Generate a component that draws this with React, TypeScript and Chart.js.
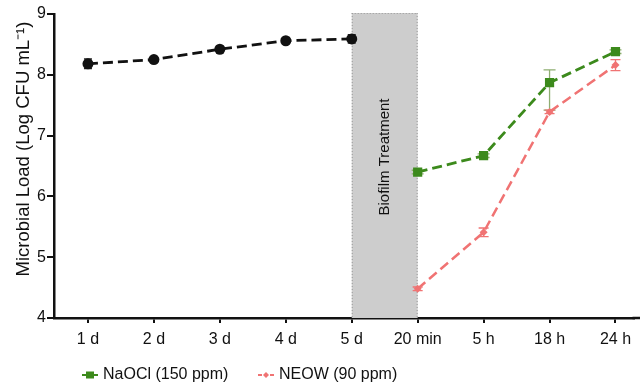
import React, { useEffect, useRef } from "react";
import { Chart, registerables } from "chart.js";

Chart.register(...registerables);

const categories = ["1 d", "2 d", "3 d", "4 d", "5 d", "20 min", "5 h", "18 h", "24 h"];
const yTicks = [4, 5, 6, 7, 8, 9];

const growthValues = [8.18, 8.25, 8.42, 8.56, 8.59, null, null, null, null];
const growthErr = [0.08, 0.04, 0.03, 0.03, 0.07, 0, 0, 0, 0];

const naoclValues = [null, null, null, null, null, 6.4, 6.67, 7.87, 8.38];
const naoclErrUp = [0, 0, 0, 0, 0, 0.03, 0.03, 0.21, 0.03];
const naoclErrDown = [0, 0, 0, 0, 0, 0.03, 0.03, 0.45, 0.03];

const neowValues = [null, null, null, null, null, 4.48, 5.41, 7.39, 8.16];
const neowErr = [0, 0, 0, 0, 0, 0.03, 0.07, 0.03, 0.09];

const legendNames = ["NaOCl (150 ppm)", "NEOW (90 ppm)"];
const bandLabel = "Biofilm Treatment";
const yTitle = "Microbial Load (Log CFU mL\u207B\u00B9)";

const GREEN = "#3c8a1c";
const RED = "#f07373";
const FONT = "Arial, 'Liberation Sans', sans-serif";

export default function App() {
  const ref = useRef<HTMLCanvasElement | null>(null);

  useEffect(() => {
    if (!ref.current) return;

    const band = {
      id: "band",
      beforeDatasetsDraw(chart: any) {
        const ctx = chart.ctx;
        const x = chart.scales.x;
        const y = chart.scales.y;
        const area = chart.chartArea;
        const x0 = x.getPixelForValue(4);
        const x1 = x.getPixelForValue(5);
        ctx.save();
        ctx.fillStyle = "#cdcdcd";
        ctx.fillRect(x0, area.top - 1, x1 - x0, area.bottom - area.top + 1);
        ctx.strokeStyle = "#9a9a9a";
        ctx.lineWidth = 1;
        ctx.setLineDash([1, 2]);
        ctx.beginPath();
        ctx.moveTo(x0 + 0.5, area.top - 1);
        ctx.lineTo(x0 + 0.5, area.bottom);
        ctx.moveTo(x1 - 0.5, area.top - 1);
        ctx.lineTo(x1 - 0.5, area.bottom);
        ctx.moveTo(x0, area.top - 0.5);
        ctx.lineTo(x1, area.top - 0.5);
        ctx.stroke();
        ctx.setLineDash([]);
        ctx.save();
        ctx.translate((x0 + x1) / 2, 157);
        ctx.rotate(-Math.PI / 2);
        ctx.fillStyle = "#111";
        ctx.font = `15px ${FONT}`;
        ctx.textAlign = "center";
        ctx.textBaseline = "middle";
        ctx.fillText(bandLabel, 0, 0);
        ctx.restore();

        const sets = [
          { v: growthValues, up: growthErr, dn: growthErr, c: "#222", cap: 4 },
          { v: naoclValues, up: naoclErrUp, dn: naoclErrDown, c: "#8fae72", cap: 6 },
          { v: neowValues, up: neowErr, dn: neowErr, c: RED, cap: 5 },
        ];
        sets.forEach((s) => {
          ctx.strokeStyle = s.c;
          ctx.lineWidth = 1.3;
          s.v.forEach((val, i) => {
            if (val === null) return;
            const u = s.up[i];
            const d = s.dn[i];
            if (!u && !d) return;
            const px = x.getPixelForValue(i);
            const top = y.getPixelForValue((val as number) + u);
            const bot = y.getPixelForValue((val as number) - d);
            ctx.beginPath();
            ctx.moveTo(px, top);
            ctx.lineTo(px, bot);
            ctx.moveTo(px - s.cap, top);
            ctx.lineTo(px + s.cap, top);
            ctx.moveTo(px - s.cap, bot);
            ctx.lineTo(px + s.cap, bot);
            ctx.stroke();
          });
        });
        ctx.restore();
      },
    };

    const extras = {
      id: "extras",
      afterDraw(chart: any) {
        const ctx = chart.ctx;
        const area = chart.chartArea;
        ctx.save();
        // extend x axis line to the right edge
        ctx.strokeStyle = "#111";
        ctx.lineWidth = 2.5;
        ctx.beginPath();
        ctx.moveTo(area.right - 1, area.bottom);
        ctx.lineTo(640, area.bottom);
        ctx.stroke();
        ctx.restore();

        ctx.save();
        ctx.translate(24, 149);
        ctx.rotate(-Math.PI / 2);
        ctx.fillStyle = "#111";
        ctx.font = `18.5px ${FONT}`;
        ctx.textAlign = "center";
        ctx.textBaseline = "middle";
        ctx.fillText(yTitle, 0, 0);
        ctx.restore();

        const ly = 375;
        const items = [
          { x: 82, c: GREEN, shape: "rect", text: legendNames[0] },
          { x: 258, c: RED, shape: "diamond", text: legendNames[1] },
        ];
        ctx.save();
        items.forEach((it) => {
          ctx.strokeStyle = it.c;
          ctx.fillStyle = it.c;
          ctx.lineWidth = 2;
          ctx.beginPath();
          ctx.moveTo(it.x, ly);
          ctx.lineTo(it.x + 4, ly);
          ctx.moveTo(it.x + 12, ly);
          ctx.lineTo(it.x + 16, ly);
          ctx.stroke();
          const cx = it.x + 8;
          if (it.shape === "rect") {
            ctx.fillRect(cx - 4, ly - 3.5, 8, 7);
          } else {
            ctx.beginPath();
            ctx.moveTo(cx, ly - 3);
            ctx.lineTo(cx + 3, ly);
            ctx.lineTo(cx, ly + 3);
            ctx.lineTo(cx - 3, ly);
            ctx.closePath();
            ctx.fill();
          }
          ctx.fillStyle = "#111";
          ctx.font = `16px ${FONT}`;
          ctx.textAlign = "left";
          ctx.textBaseline = "middle";
          ctx.fillText(it.text, it.x + 21, ly);
        });
        ctx.restore();
      },
    };

    const toPts = (arr: (number | null)[]) => arr.map((v, i) => ({ x: i, y: v }));

    const chart = new Chart(ref.current, {
      type: "line",
      data: {
        datasets: [
          {
            label: "Growth",
            data: toPts(growthValues) as any,
            borderColor: "#111",
            backgroundColor: "#111",
            borderWidth: 2.8,
            borderDash: [10, 5],
            pointStyle: "circle",
            pointRadius: 5.5,
            pointBorderWidth: 0,
          },
          {
            label: legendNames[0],
            data: toPts(naoclValues) as any,
            borderColor: GREEN,
            backgroundColor: GREEN,
            borderWidth: 2.8,
            borderDash: [10, 5],
            pointStyle: "rect",
            pointRadius: 6.5,
            pointBorderWidth: 0,
          },
          {
            label: legendNames[1],
            data: toPts(neowValues) as any,
            borderColor: RED,
            backgroundColor: RED,
            borderWidth: 2.5,
            borderDash: [10, 5],
            pointStyle: "rectRot",
            pointRadius: 4,
            pointBorderWidth: 0,
          },
        ],
      },
      options: {
        animation: false,
        responsive: false,
        maintainAspectRatio: false,
        layout: { padding: { top: 14, right: 0, left: 0, bottom: 0 } },
        plugins: { legend: { display: false }, tooltip: { enabled: false } },
        scales: {
          x: {
            type: "linear",
            min: -0.515,
            max: 8.273,
            afterBuildTicks: (scale: any) => {
              scale.ticks = categories.map((_, i) => ({ value: i }));
            },
            afterFit: (scale: any) => {
              scale.height = 71;
              scale.paddingLeft = 0;
              scale.paddingRight = 0;
            },
            ticks: {
              callback: (v: any) => categories[v as number] ?? "",
              color: "#111",
              font: { family: FONT, size: 16 },
              padding: 7,
              maxRotation: 0,
              autoSkip: false,
            },
            grid: {
              drawOnChartArea: false,
              drawTicks: true,
              tickLength: 5,
              color: "#111",
              lineWidth: 2,
            },
            border: { display: true, color: "#111", width: 2.5 },
          },
          y: {
            min: 4,
            max: 9,
            afterBuildTicks: (scale: any) => {
              scale.ticks = yTicks.map((v) => ({ value: v }));
            },
            afterFit: (scale: any) => {
              scale.width = 54;
            },
            ticks: {
              color: "#111",
              font: { family: FONT, size: 16 },
              padding: 1,
            },
            grid: {
              drawOnChartArea: false,
              drawTicks: true,
              tickLength: 7,
              color: "#111",
              lineWidth: 2,
            },
            border: { display: true, color: "#111", width: 2.5 },
          },
        },
      },
      plugins: [band, extras],
    });

    return () => chart.destroy();
  }, []);

  return (
    <div style={{ position: "fixed", left: 0, top: 0, width: 640, height: 389, background: "#fff" }}>
      <canvas ref={ref} width={640} height={389} style={{ width: 640, height: 389, display: "block" }} />
    </div>
  );
}
